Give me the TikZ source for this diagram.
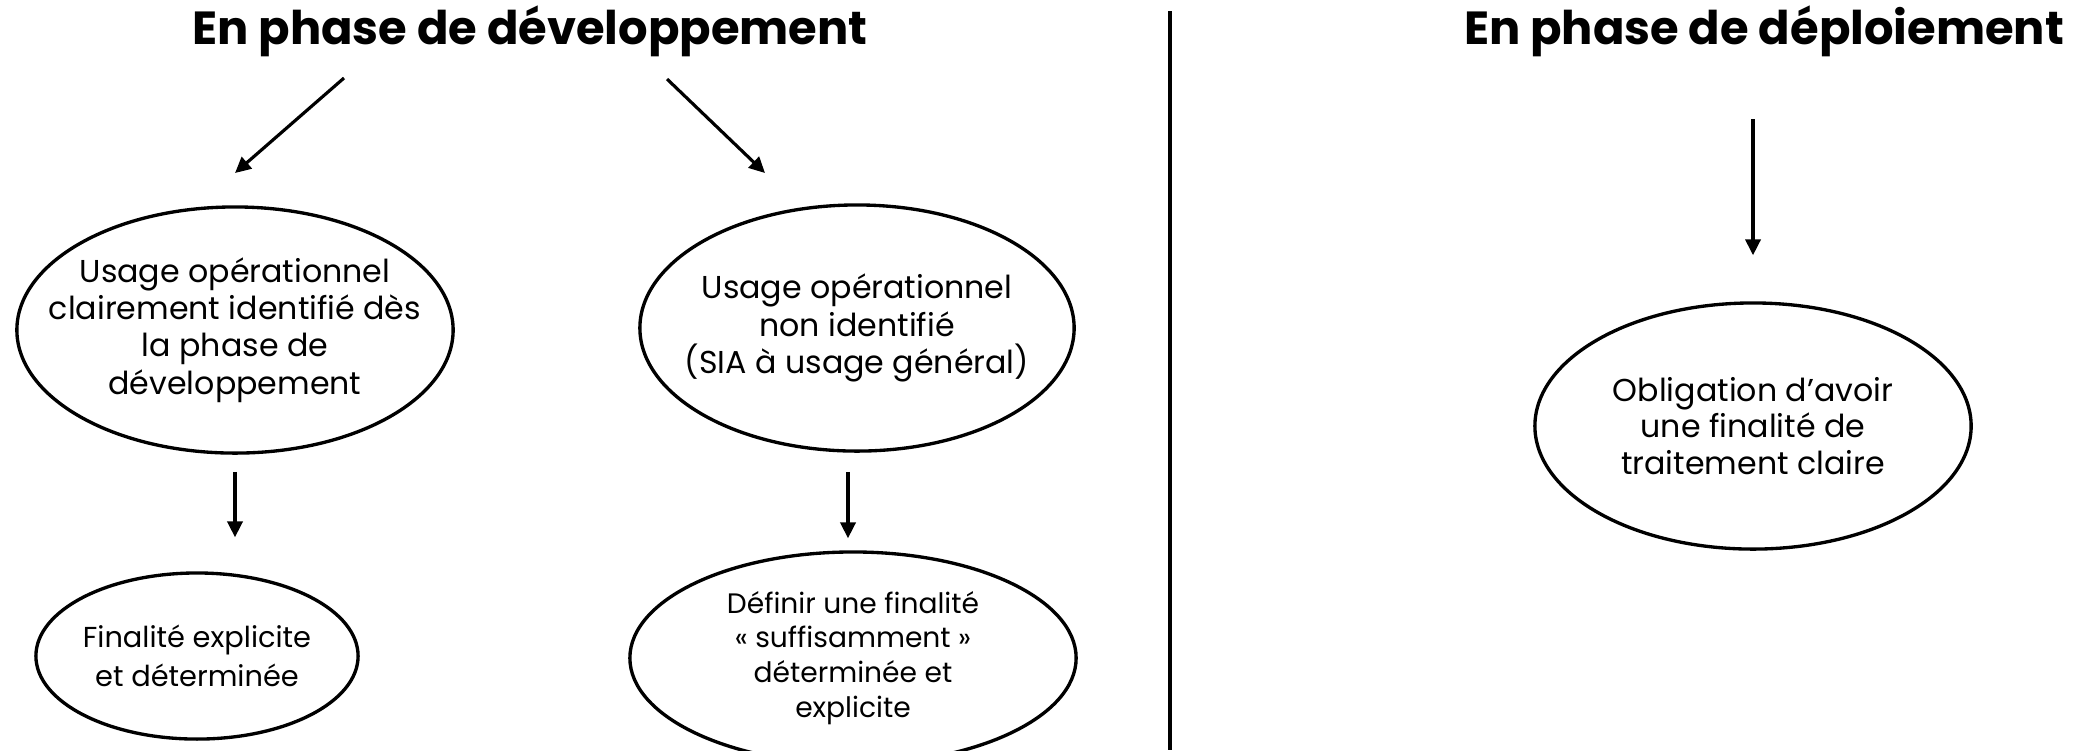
\documentclass[tikz,border=0pt]{standalone}
\usepackage{fontspec}
\setmainfont{Poppins}
\usetikzlibrary{arrows.meta,positioning,shapes.geometric}
\tikzset{
    >={Triangle[length=4.5pt,width=4.3pt]},
    every picture/.style={line width=0.9pt},
    bubble/.style={ellipse,draw,line width=0.95pt,inner sep=-1cm,align=center,
        font=\fontsize{9}{10.6}\selectfont},
    phasetitle/.style={font=\fontsize{13.2}{15}\selectfont\bfseries,inner sep=0pt}
}

\begin{document}
\begin{tikzpicture}[x=0.01cm,y=-0.01cm]
    \useasboundingbox (0,0) rectangle (2080,750);

    % the two phases
    \node[phasetitle] (devTitle) at (530,31) {En phase de développement};
    \node[phasetitle] (depTitle) at (1764,31) {En phase de déploiement};

    % separator between the phases
    \coordinate (sepTop) at (1170,11);
    \coordinate (sepBot) at (1170,750);
    \draw[line width=1.4pt] (sepTop) -- (sepBot);

    % development side
    \node[bubble,minimum width=4.36cm,minimum height=2.46cm] (usageId) at (235,330)
        {Usage opérationnel\\clairement identifié dès\\la phase de\\développement};
    \node[bubble,minimum width=4.34cm,minimum height=2.46cm] (usageNon) at (857,328)
        {Usage opérationnel\\non identifié\\(SIA à usage général)};
    \node[bubble,minimum width=3.22cm,minimum height=1.66cm,
        font=\fontsize{8.2}{11}\selectfont] (finExp) at (197,656)
        {Finalité explicite\\et déterminée};
    \node[bubble,minimum width=4.46cm,minimum height=2.12cm,
        font=\fontsize{8}{9.9}\selectfont] (finDef) at (853,658)
        {Définir une finalité\\« suffisamment »\\déterminée et\\explicite};

    \coordinate (a1s) at (344,78);
    \coordinate (a1e) at (235,173);
    \coordinate (a2s) at (667,79);
    \coordinate (a2e) at (765,173);
    \draw[->] (a1s) -- (a1e);
    \draw[->] (a2s) -- (a2e);
    \draw[->,shorten <=0.17cm,shorten >=0.34cm] (usageId.south) -- (usageId.south |- finExp.north);
    \draw[->,shorten <=0.19cm,shorten >=0.12cm] ([xshift=-0.09cm]usageNon.south) -- ([xshift=-0.09cm]usageNon.south |- finDef.north);

    % deployment side
    \node[bubble,minimum width=4.36cm,minimum height=2.46cm,
        font=\fontsize{9}{10.5}\selectfont] (oblig) at (1753,426)
        {Obligation d’avoir\\une finalité de\\traitement claire};
    \coordinate (a5s) at (1753,119);
    \draw[->,shorten >=0.46cm] (a5s) -- (oblig.north);
\end{tikzpicture}
\end{document}
